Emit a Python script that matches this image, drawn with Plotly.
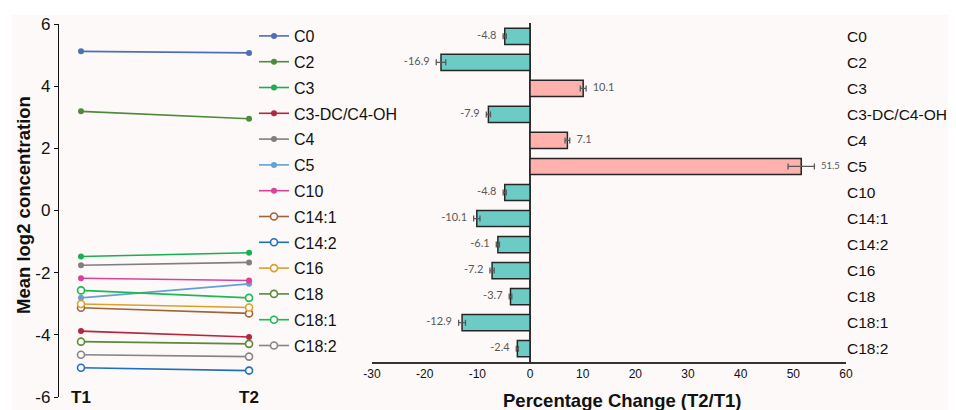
import plotly.graph_objects as go

# page body has an 8px margin; figure is sized to fill the rest of the 956x410 window
OFF = 8
W, H = 956 - OFF, 410 - OFF


def px(x):
    return (x - OFF) / W


def py(y):
    return 1 - (y - OFF) / H


# ---------------- data ----------------
timepoints = ["T1", "T2"]
metabolites = ["C0", "C2", "C3", "C3-DC/C4-OH", "C4", "C5", "C10",
               "C14:1", "C14:2", "C16", "C18", "C18:1", "C18:2"]
t1_values = [5.12, 3.19, -1.48, -3.88, -1.76, -2.81, -2.18,
             -3.13, -5.06, -3.01, -4.22, -2.57, -4.64]
t2_values = [5.07, 2.95, -1.36, -4.07, -1.67, -2.36, -2.25,
             -3.31, -5.15, -3.12, -4.29, -2.81, -4.70]
line_colors = ["#4f6eb4", "#4e8b3b", "#1aaf54", "#b5253f", "#7f7f7f", "#62a0d8",
               "#d94396", "#a0643a", "#1f6fc0", "#d9a02a", "#5a8a3a", "#1db955", "#858585"]
open_marker = [False, False, False, False, False, False, False,
               True, True, True, True, True, True]

pct_change = [-4.8, -16.9, 10.1, -7.9, 7.1, 51.5, -4.8,
              -10.1, -6.1, -7.2, -3.7, -12.9, -2.4]
pct_error = [0.3, 0.9, 0.55, 0.4, 0.45, 2.5, 0.3,
             0.6, 0.3, 0.4, 0.25, 0.65, 0.2]
pct_ticks = [-30, -20, -10, 0, 10, 20, 30, 40, 50, 60]
log_ticks = [-6, -4, -2, 0, 2, 4, 6]

BG = "#fdf9f8"
NEG = "#6ccbc4"
POS = "#ffb1ad"

fig = go.Figure()

# ---------------- left panel: paired lines ----------------
for name, a, b, c, op in zip(metabolites, t1_values, t2_values, line_colors, open_marker):
    fig.add_trace(go.Scatter(
        x=[0, 1], y=[a, b], mode="lines+markers", name=name,
        legendgroup=name,
        line=dict(color=c, width=1.6),
        marker=dict(size=7 if op else 6, color=BG if op else c,
                    line=dict(color=c, width=1.6 if op else 0), symbol="circle"),
        xaxis="x", yaxis="y", hoverinfo="skip",
    ))

# ---------------- right panel: bars ----------------
bar_colors = [POS if v > 0 else NEG for v in pct_change]
fig.add_trace(go.Bar(
    x=pct_change, y=metabolites, orientation="h", width=0.62,
    marker=dict(color=bar_colors, line=dict(color="#262626", width=1.5)),
    error_x=dict(type="data", array=pct_error, color="#595959", thickness=1.3, width=3),
    xaxis="x2", yaxis="y2", showlegend=False, hoverinfo="skip",
))

label_x = [v + (e if v > 0 else -e) for v, e in zip(pct_change, pct_error)]
label_pos = ["middle right" if v > 0 else "middle left" for v in pct_change]
label_size = [9.5 if abs(v) > 40 else 11 for v in pct_change]
fig.add_trace(go.Scatter(
    x=label_x, y=metabolites, mode="markers+text",
    marker=dict(size=9, color="rgba(0,0,0,0)"),
    text=[f"{v:.1f}" for v in pct_change], textposition=label_pos,
    textfont=dict(family="Lato, Carlito, sans-serif", size=label_size, color="#595959"),
    xaxis="x2", yaxis="y2", showlegend=False, hoverinfo="skip",
))

# ---------------- annotations ----------------
ann = []
for i, t in enumerate(timepoints):
    ann.append(dict(x=i, y=-6, xref="x", yref="y", text=f"<b>{t}</b>", showarrow=False,
                    xanchor="center", yanchor="middle",
                    font=dict(family="Liberation Sans, Arial", size=17, color="#111")))
ann.append(dict(x=px(23), y=py(205), xref="paper", yref="paper",
                text="<b>Mean log2 concentration</b>", textangle=-90, showarrow=False,
                xanchor="center", yanchor="middle",
                font=dict(family="Liberation Sans, Arial", size=18.5, color="#111")))
ann.append(dict(x=px(622), y=py(400), xref="paper", yref="paper",
                text="<b>Percentage Change (T2/T1)</b>", showarrow=False,
                xanchor="center", yanchor="middle",
                font=dict(family="Liberation Sans, Arial", size=18.5, color="#111")))

fig.update_layout(
    width=W, height=H,
    margin=dict(l=0, r=0, t=0, b=0, autoexpand=False),
    paper_bgcolor="white", plot_bgcolor="rgba(0,0,0,0)",
    font=dict(family="Liberation Sans, Arial", color="#111"),
    shapes=[dict(type="rect", xref="paper", yref="paper", x0=px(12), x1=1, y0=0, y1=py(15),
                 fillcolor=BG, line=dict(width=0), layer="below")],
    annotations=ann,
    showlegend=True,
    legend=dict(x=px(254), y=py(19), xanchor="left", yanchor="top",
                bgcolor="rgba(0,0,0,0)", font=dict(size=16, color="#111"),
                traceorder="grouped", tracegroupgap=2, itemwidth=30),
    xaxis=dict(domain=[px(59), px(265)], range=[-0.131, 1.095], showgrid=False,
               zeroline=False, showline=False, showticklabels=False, ticks=""),
    yaxis=dict(domain=[py(397), py(24)], range=[-6, 6], tickvals=log_ticks,
               ticktext=[str(v) for v in log_ticks],
               showgrid=False, zeroline=False, showline=True, linecolor="#111", linewidth=1.3,
               ticks="outside", ticklen=4, tickcolor="#111", tickwidth=1.3,
               tickfont=dict(size=17, color="#111")),
    xaxis2=dict(domain=[px(372), px(846)], range=[-30, 60], tickvals=pct_ticks,
                ticktext=[str(v) for v in pct_ticks], anchor="y2",
                showgrid=False, zeroline=True, zerolinecolor="#333", zerolinewidth=1.5,
                showline=True, linecolor="#333", linewidth=1.5, ticks="",
                tickfont=dict(size=12, color="#111")),
    yaxis2=dict(domain=[py(361.7), py(23.3)], anchor="x2", side="right",
                categoryorder="array", categoryarray=metabolites,
                range=[len(metabolites) - 0.5, -0.5], autorange=False,
                showgrid=False, zeroline=False, showline=False, ticks="",
                tickfont=dict(size=15.5, color="#111")),
)

fig.write_html("out.html")
